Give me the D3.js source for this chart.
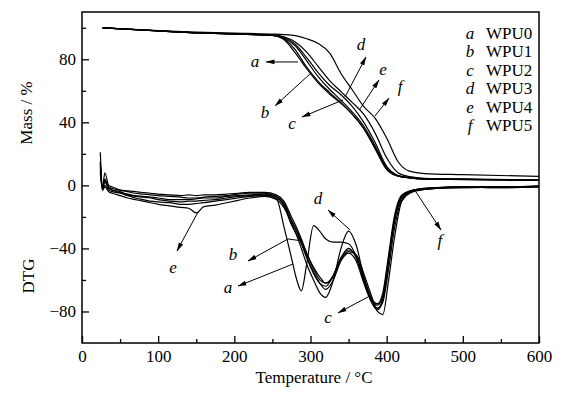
<!DOCTYPE html>
<html>
<head>
<meta charset="utf-8">
<script src="https://cdn.jsdelivr.net/npm/d3@7"></script>
<style>
  body { margin: 0; background: #fff; }
  svg { display: block; font-family: "Liberation Serif", "Times New Roman", serif; }
</style>
</head>
<body>
<svg id="chart" width="572" height="397"></svg>
<script>
// sample names and their curve letters
const sampleNames = ["WPU0", "WPU1", "WPU2", "WPU3", "WPU4", "WPU5"];
const sampleKeys = ["a", "b", "c", "d", "e", "f"];

// TG (mass %) curves
const tgTemp = [27, 100, 150, 200, 250, 265, 280, 295, 310, 325, 340, 355, 370, 385, 400, 415, 430, 450, 500, 600];
const tgA = [100, 98, 96.8, 96, 95.2, 92.5, 84, 74, 65, 58, 52, 45, 36, 24, 10.5, 6, 4.8, 4, 3.8, 3.2];
const tgB = [100, 98, 96.8, 96, 95.2, 93, 86, 75, 66, 59, 52.5, 45, 36, 23, 10, 5.8, 4.7, 4, 3.7, 3.1];
const tgC = [100, 98, 96.8, 96, 95.2, 93.5, 88.5, 79, 69, 61, 54, 46.5, 37.5, 25, 11, 6, 4.8, 4.1, 3.8, 3.2];
const tgD = [100, 98, 96.8, 96, 95.3, 94, 89.5, 81, 71.5, 63.5, 57.5, 50, 40, 27, 12, 6.3, 5, 4.2, 3.9, 3.3];
const tgE = [100, 98.1, 96.9, 96.2, 95.5, 94.3, 91, 84.5, 75.5, 66.5, 59.5, 52.5, 45, 33, 17.5, 8, 5.5, 4.5, 4.1, 3.5];
const tgF = [100, 98.2, 97.2, 96.6, 96, 95.7, 95, 93, 90, 84, 71, 60.5, 50, 42.5, 30, 15, 9, 7.5, 6.8, 5.7];

// DTG curves
const dtgTemp = [24, 27, 30, 35, 40, 50, 60, 70, 80, 90, 100, 115, 130, 140, 150, 160, 175, 190, 205, 220, 240, 255,
  265, 275, 282, 288, 295, 304, 312, 320, 330, 340, 350, 360, 370, 380, 388, 395, 402, 410, 420, 435, 460, 500, 550, 600];
const dtgA = [15, -2, 2, -2, -3, -4, -6, -7, -7.5, -8, -9, -10, -10.5, -10, -10, -9.5, -9, -8, -7, -6.5, -6, -8,
  -26, -46, -60, -67, -50, -25.5, -29, -34, -36, -36, -37, -45, -60, -72, -75, -68, -46, -20, -6, -3, -1.5, -1, -1, -0.5];
const dtgB = [10, -3, 0, -3, -4, -5, -6.5, -8, -9, -10, -10.5, -11, -12, -12, -11.5, -11, -10, -9, -8, -7, -6.5, -8,
  -12, -24, -31, -37, -46, -56, -62, -64, -57, -46, -40, -46, -60, -72, -76, -70, -48, -22, -7, -3, -1.5, -1.5, -1, -1];
const dtgC = [12, -2, 4, -1, -3, -4.5, -5.5, -6.5, -7, -7.5, -8, -9, -9, -9, -8.5, -8, -8, -7, -6.5, -6, -5.5, -7,
  -11, -22, -29, -36, -45, -55, -62, -66, -60, -48, -43, -48, -62, -74, -78, -72, -50, -24, -8, -3.5, -2, -1, -1.5, -1];
const dtgD = [21, -1, 8, 0, -1, -3, -4, -5, -5.5, -6, -6.5, -7, -7.5, -8, -8, -7.5, -7, -6.5, -5.5, -5, -5, -7,
  -13, -25, -32, -40, -50, -60, -68, -71, -60, -40, -29, -38, -58, -74, -79, -73, -50, -22, -7, -3, -1.5, -1, -1, -0.5];
const dtgE = [8, -3, -1, -4, -5, -6.5, -8, -9, -10, -11, -12, -13, -14, -14.5, -17.5, -13.5, -12.5, -11, -9.5, -8, -7, -9,
  -14, -23, -29, -35, -43, -52, -58, -62, -57, -46, -41, -45, -58, -72, -78, -74, -55, -28, -9, -3.5, -2, -1.5, -1, -1];
const dtgF = [14, -1, 3, -1, -2, -3, -3.5, -4, -4.5, -5, -5.5, -6, -6.5, -6, -6.5, -6, -6, -5.5, -5, -4.5, -4.5, -6,
  -10, -20, -27, -34, -43, -53, -60, -62, -58, -47, -42, -44, -56, -70, -80, -82, -62, -34, -10, -4, -2, -1, -1.5, -0.5];

// axis ticks
const xTicks = [0, 100, 200, 300, 400, 500, 600];
const xMinor = [50, 150, 250, 350, 450, 550];
const yTicks = [-80, -40, 0, 40, 80];
const yMinor = [-60, -20, 20, 60, 100];

// leader arrows: [label, label pos, points from curve to arrow head] in data units
const tgNotes = [
  ["a", [227, 78.3], [[283.6, 78.3], [241.6, 78.3]]],
  ["b", [240.3, 45.9], [[300.7, 71.3], [253.4, 50.4]]],
  ["c", [275.7, 39], [[342.7, 54.2], [288.8, 43.4]]],
  ["d", [366.3, 89.1], [[345.3, 56.1], [372.9, 81.5]]],
  ["e", [395.2, 73.3], [[365, 48.5], [389.9, 66.9]]],
  ["f", [417.5, 63], [[384.7, 44], [403.1, 55.4]]]
];
const dtgNotes = [
  ["a", [191.7, -65.1], [[277, -49.9], [204.8, -63.9]]],
  ["b", [198.2, -44.1], [[288.8, -35.2], [270.5, -34], [217.9, -48]]],
  ["c", [323, -84.1], [[375.5, -70.8], [336.1, -80.9]]],
  ["d", [309.8, -8.6], [[351.9, -28.3], [323, -15.6]]],
  ["e", [119.5, -52.4], [[152.3, -16.9], [124.7, -41.6]]],
  ["f", [470, -35.2], [[438.5, -4.2], [471.3, -28.3]]]
];

const W = 572, H = 397;
const margin = {top: 12, right: 33, bottom: 54, left: 82};

const svg = d3.select("#chart");

const x = d3.scaleLinear().domain([0, 600]).range([margin.left, W - margin.right]);
const y = d3.scaleLinear().domain([-100, 110]).range([H - margin.bottom, margin.top]);

svg.append("defs").append("marker")
  .attr("id", "head")
  .attr("markerUnits", "userSpaceOnUse")
  .attr("viewBox", "0 0 9 6")
  .attr("refX", 8.5).attr("refY", 3)
  .attr("markerWidth", 9).attr("markerHeight", 6)
  .attr("orient", "auto")
  .append("path")
  .attr("d", "M0,0.6L9,3L0,5.4Z")
  .attr("fill", "#000");

// axes, ticks point inward
const gx = svg.append("g")
  .attr("transform", `translate(0,${H - margin.bottom})`)
  .call(d3.axisBottom(x).tickValues(xTicks).tickSizeInner(-7).tickSizeOuter(0).tickPadding(7));
svg.append("g")
  .attr("transform", `translate(0,${H - margin.bottom})`)
  .call(d3.axisBottom(x).tickValues(xMinor).tickSizeInner(-4).tickSizeOuter(0).tickFormat(""));
const gy = svg.append("g")
  .attr("transform", `translate(${margin.left},0)`)
  .call(d3.axisLeft(y).tickValues(yTicks).tickSizeInner(-7).tickSizeOuter(0).tickPadding(6));
svg.append("g")
  .attr("transform", `translate(${margin.left},0)`)
  .call(d3.axisLeft(y).tickValues(yMinor).tickSizeInner(-4).tickSizeOuter(0).tickFormat(""));

svg.selectAll(".domain").remove();
svg.selectAll(".tick line").attr("stroke", "#000").attr("stroke-width", 1.3);
svg.selectAll(".tick text")
  .attr("font-family", "Liberation Serif, serif")
  .attr("font-size", 17)
  .attr("fill", "#000");

svg.append("rect")
  .attr("x", margin.left).attr("y", margin.top)
  .attr("width", W - margin.left - margin.right)
  .attr("height", H - margin.top - margin.bottom)
  .attr("fill", "none").attr("stroke", "#000").attr("stroke-width", 1.5);

// curves
const line = d3.line()
  .x(d => x(d[0]))
  .y(d => y(d[1]))
  .curve(d3.curveMonotoneX);

const tgSeries = [tgA, tgB, tgC, tgD, tgE, tgF];
const dtgSeries = [dtgA, dtgB, dtgC, dtgD, dtgE, dtgF];

const plot = svg.append("g");
tgSeries.forEach(vals => {
  plot.append("path")
    .attr("d", line(tgTemp.map((t, i) => [t, vals[i]])))
    .attr("fill", "none").attr("stroke", "#000").attr("stroke-width", 1.2);
});
dtgSeries.forEach(vals => {
  plot.append("path")
    .attr("d", line(dtgTemp.map((t, i) => [t, vals[i]])))
    .attr("fill", "none").attr("stroke", "#000").attr("stroke-width", 1.2);
});

// leader arrows and curve letters
const notes = svg.append("g");
tgNotes.concat(dtgNotes).forEach(([key, pos, pts]) => {
  notes.append("path")
    .attr("d", d3.line().x(p => x(p[0])).y(p => y(p[1]))(pts))
    .attr("fill", "none").attr("stroke", "#000").attr("stroke-width", 1)
    .attr("marker-end", "url(#head)");
  notes.append("text")
    .attr("x", x(pos[0])).attr("y", y(pos[1]))
    .attr("dy", "0.32em")
    .attr("text-anchor", "middle")
    .attr("font-style", "italic")
    .attr("font-size", 17)
    .text(key);
});

// legend
const legend = svg.append("g");
sampleNames.forEach((name, i) => {
  const yy = 39 + i * 18.4;
  legend.append("text")
    .attr("x", 470).attr("y", yy)
    .attr("text-anchor", "middle")
    .attr("font-style", "italic")
    .attr("font-size", 17)
    .text(sampleKeys[i]);
  legend.append("text")
    .attr("x", 486).attr("y", yy)
    .attr("font-size", 17)
    .text(name);
});

// axis titles
svg.append("text")
  .attr("transform", "translate(32,113) rotate(-90)")
  .attr("text-anchor", "middle")
  .attr("font-size", 17)
  .text("Mass / %");
svg.append("text")
  .attr("transform", "translate(34,276) rotate(-90)")
  .attr("text-anchor", "middle")
  .attr("font-size", 17)
  .text("DTG");
svg.append("text")
  .attr("x", 314).attr("y", 383)
  .attr("text-anchor", "middle")
  .attr("font-size", 17)
  .text("Temperature / °C");
</script>
</body>
</html>
